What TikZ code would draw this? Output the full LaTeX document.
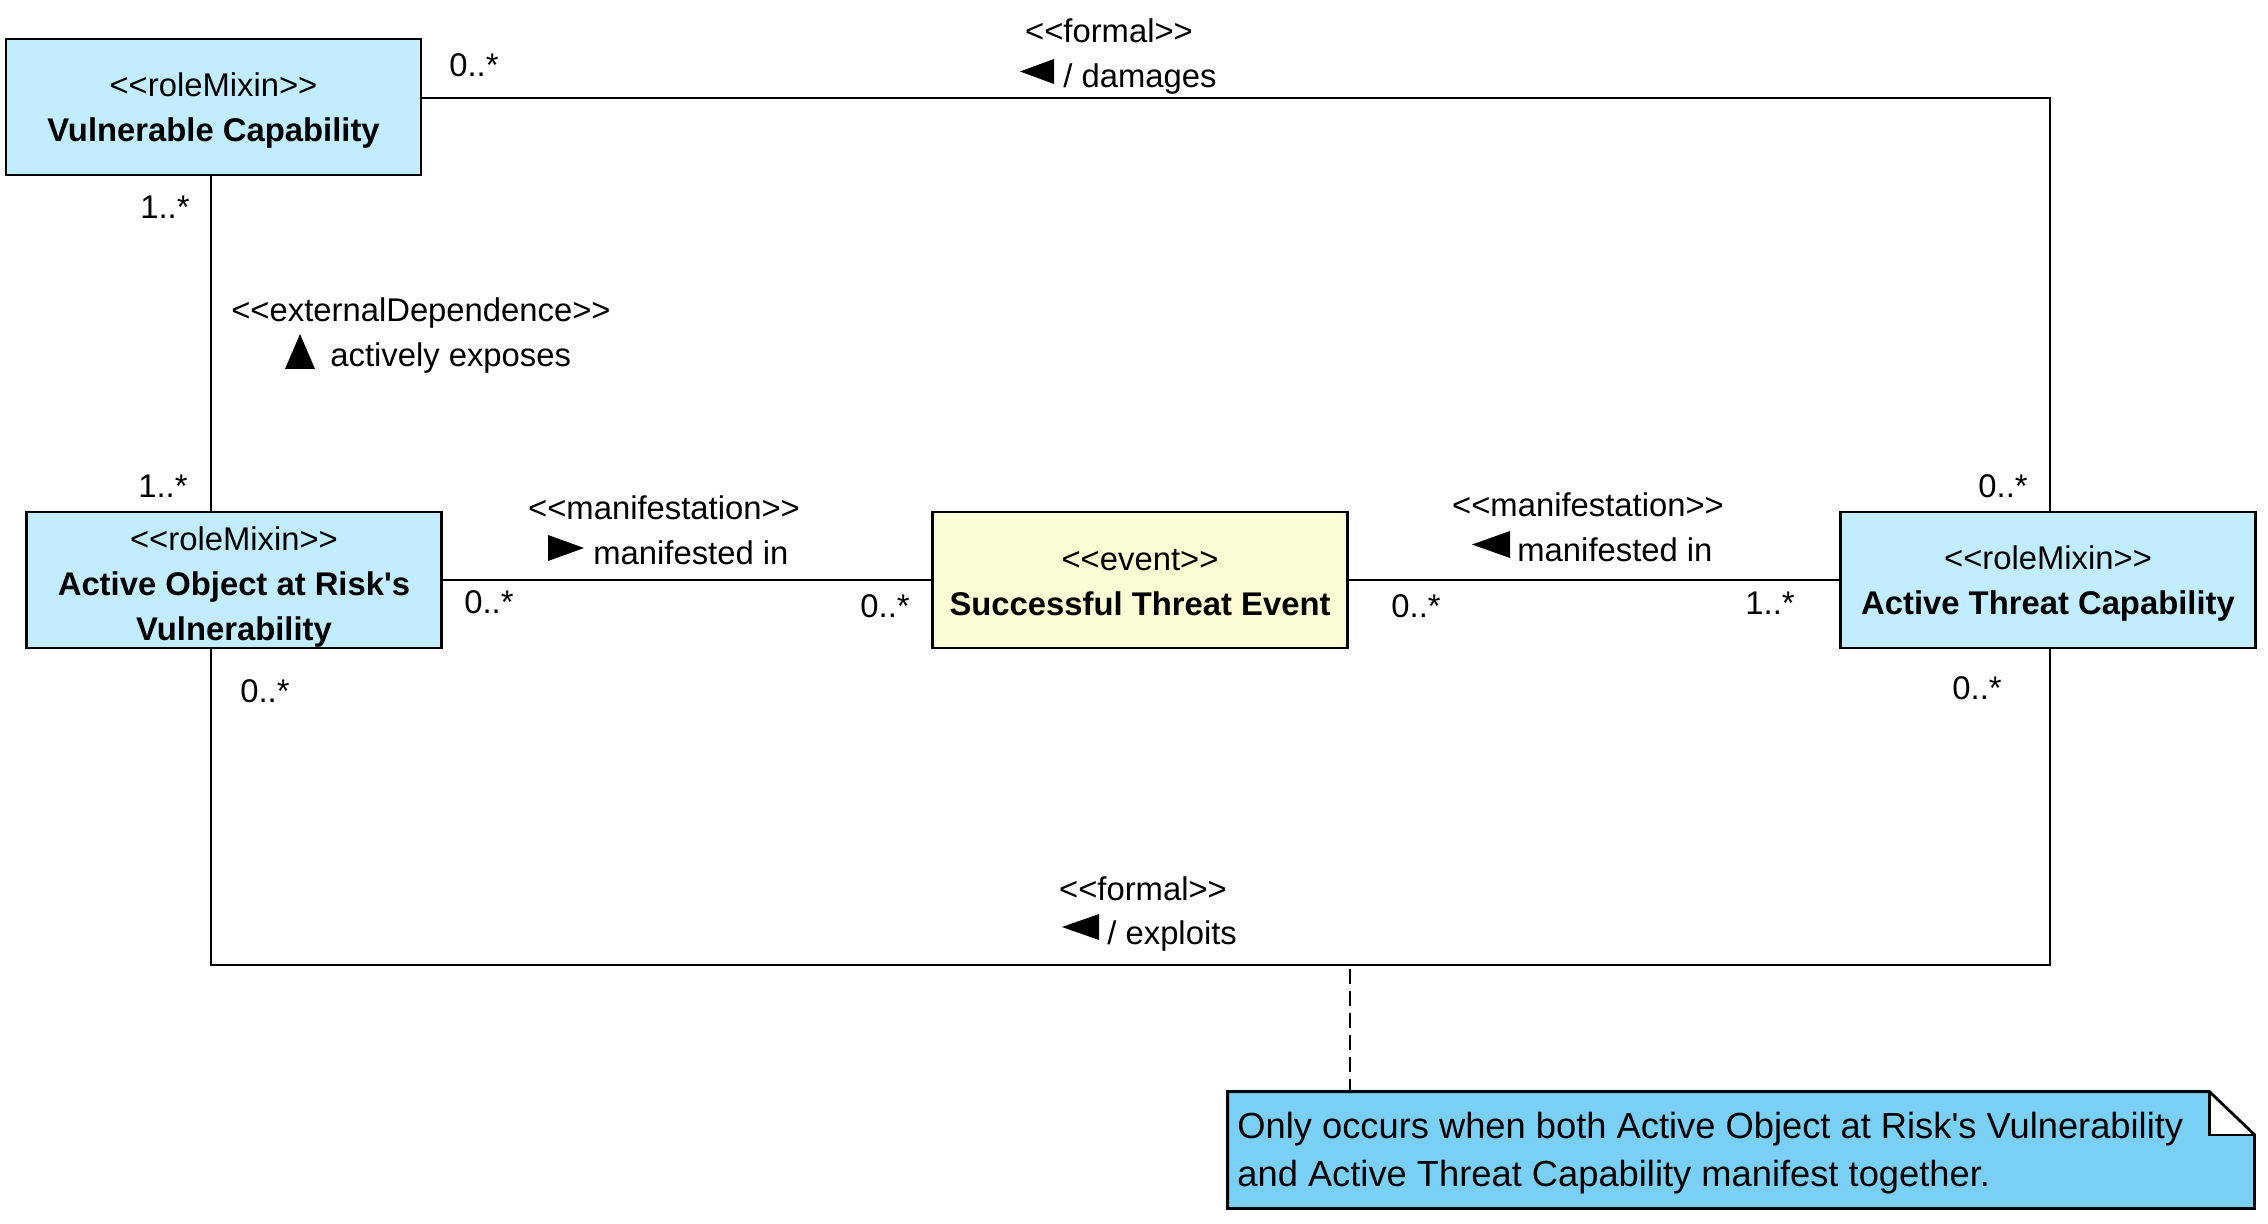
\documentclass[tikz,border=0pt]{standalone}
\usepackage{fontspec}
\newfontfamily\lsans{Liberation Sans}
\usetikzlibrary{calc}
\definecolor{roleblue}{RGB}{194,236,255}
\definecolor{eventyellow}{RGB}{252,252,212}
\definecolor{noteblue}{RGB}{122,207,245}
\begin{document}
\begin{tikzpicture}[x=0.5pt,y=-0.5pt,
  txt/.style={font=\lsans\fontsize{16.4}{22.5}\selectfont, inner sep=0pt},
  cls/.style={draw=black, line width=1.4pt, minimum width=207.5pt, minimum height=68pt, inner sep=0pt},
  role/.style={cls, fill=roleblue},
  evt/.style={cls, fill=eventyellow},
  clstxt/.style={txt, align=center},
  assoc/.style={line width=1.1pt},
  tri/.style={fill=black},
  notetxt/.style={font=\lsans\fontsize{18.15}{24}\selectfont, inner sep=0pt, align=left},
]
\useasboundingbox (0,0) rectangle (2268,1224);

% classes
\node[role] (VC) at (213.5,107) {};
\node[clstxt] (VCt) at ($(VC)+(0,4)$) {<<roleMixin>>\\\textbf{Vulnerable Capability}};
\node[role] (AOR) at (234,580) {};
\node[clstxt] (AORt) at ($(AOR)+(0,7)$) {<<roleMixin>>\\\textbf{Active Object at Risk's}\\\textbf{Vulnerability}};
\node[evt] (STE) at (1140,580) {};
\node[clstxt] (STEt) at ($(STE)+(0,3)$) {<<event>>\\\textbf{Successful Threat Event}};
\node[role] (ATC) at (2048,580) {};
\node[clstxt] (ATCt) at ($(ATC)+(0,4)$) {<<roleMixin>>\\\textbf{Active Threat Capability}};

% routing coordinates
\coordinate (tr) at (2050,98);
\coordinate (lx) at (211,0);
\coordinate (bl) at (211,965);
\coordinate (br) at (2050,965);
\coordinate (dtop) at (1350,969);

% connectors
\draw[assoc] (VC.east |- tr) -- (tr) -- (ATC.north -| tr);
\draw[assoc] (VC.south -| lx) -- (AOR.north -| lx);
\draw[assoc] (AOR.east) -- (STE.west);
\draw[assoc] (STE.east) -- (ATC.west);
\draw[assoc] (AOR.south -| bl) -- (bl) -- (br) -- (ATC.south -| br);

% note
\node[inner sep=0pt, minimum width=513pt, minimum height=58pt] (note) at (1741,1150) {};
\coordinate (fa) at ($(note.north east)+(-45,0)$);
\coordinate (fb) at ($(note.north east)+(0,43)$);
\coordinate (fc) at ($(note.north east)+(-45,43)$);
\fill[noteblue] (note.south west) -- (note.north west) -- (fa) -- (fc) -- (fb) -- (note.south east) -- cycle;
\draw[line width=1.4pt, line join=miter] (note.south west) -- (note.north west) -- (fa) -- (fb) -- (note.south east) -- cycle;
\draw[line width=1.1pt] (fa) -- (fc) -- (fb);
\node[notetxt, anchor=west] (nt) at (1237,1153) {Only occurs when both Active Object at Risk's Vulnerability\\and Active Threat Capability manifest together.};
\draw[assoc, dash pattern=on 7.5pt off 3.5pt, line width=1pt] (dtop) -- (note.north -| dtop);

% labels: top association
\node[txt] (fm1) at (1109,31) {<<formal>>};
\node[txt, anchor=west] (dmg) at (1063,79) {/ damages};
\fill[tri] (1054,59) -- (1054,84) -- (1020,71.5) -- cycle;
\node[txt] (m1) at (474,65) {0..*};
\node[txt] (m4) at (2003,486) {0..*};

% left vertical association
\node[txt] (m2) at (165,207) {1..*};
\node[txt] (ed) at (421,313) {<<externalDependence>>};
\node[txt, anchor=west] (ae) at (330,358) {actively exposes};
\fill[tri] (285,369) -- (315,369) -- (300,334) -- cycle;
\node[txt] (m3) at (163,486) {1..*};

% middle left
\node[txt] (mf1) at (664,508) {<<manifestation>>};
\node[txt, anchor=west] (mi1) at (593,553) {manifested in};
\fill[tri] (548,535) -- (548,561) -- (584,548) -- cycle;
\node[txt] (m5) at (489,602) {0..*};
\node[txt] (m6) at (885,606) {0..*};

% middle right
\node[txt] (mf2) at (1588,505) {<<manifestation>>};
\node[txt, anchor=west] (mi2) at (1517,550) {manifested in};
\fill[tri] (1510,531) -- (1510,558) -- (1472,544.5) -- cycle;
\node[txt] (m7) at (1416,606) {0..*};
\node[txt] (m8) at (1770,603) {1..*};

% bottom association
\node[txt] (m9) at (265,691) {0..*};
\node[txt] (m10) at (1977,688) {0..*};
\node[txt] (fm2) at (1143,889) {<<formal>>};
\node[txt, anchor=west] (exp) at (1107,936) {/ exploits};
\fill[tri] (1099,914) -- (1099,940) -- (1062,927) -- cycle;
\end{tikzpicture}
\end{document}
